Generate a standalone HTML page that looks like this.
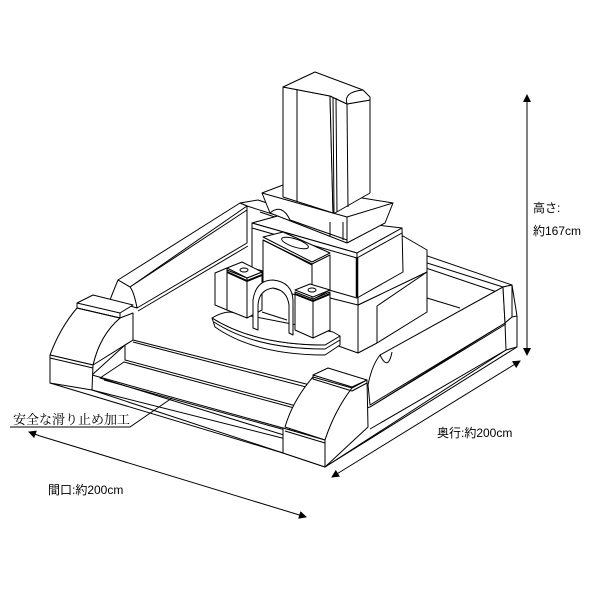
<!DOCTYPE html>
<html><head><meta charset="utf-8"><style>
html,body{margin:0;padding:0;background:#fff;}
svg{display:block}
text{font-family:"Liberation Sans","Noto Sans CJK JP",sans-serif;fill:#000}
</style></head><body>
<svg width="600" height="600" viewBox="0 0 600 600" xmlns="http://www.w3.org/2000/svg">
<defs>
<marker id="ah" markerWidth="8" markerHeight="8" refX="7" refY="4" orient="auto" markerUnits="userSpaceOnUse">
<path d="M0,0 L8,4 L0,8 z" fill="#000"/></marker>
</defs>
<g fill="#fff" stroke="#000" stroke-width="1" stroke-linejoin="round">
<!-- back rail -->
<polygon points="240,203 247,206 503,287 512,285 410,250 258,200"/>
<line x1="260" y1="212" x2="497" y2="292" fill="none"/>
<line x1="247" y1="206" x2="247" y2="243" fill="none"/>
<line x1="427" y1="298" x2="460" y2="308" fill="none"/>
<!-- left rail -->
<path d="M118,280 L240,203 L247,206 L130,287 Z"/>
<path d="M130,287 L247,210 L247,243 L137,308 Q134,292 130,287 Z"/>
<path d="M118,280 Q113,292 110,300 L137,308 Q134,292 130,287 Z"/>
<line x1="138" y1="311" x2="248" y2="246" fill="none"/>
<!-- right rail -->
<polygon points="512,285 517,316 517,347 325,467 283,453 283,430 370,407 505,323 505,290"/>
<path d="M380,355 L503,287 L505,323 L370,405 L368,385 Q372,365 380,355 Z"/>
<polygon points="503,287 512,285 512,317 505,323"/>
<polygon points="505,323 512,317 517,316 517,347 506,350"/>
<line x1="370" y1="407" x2="506" y2="324" fill="none"/>
<line x1="370" y1="429" x2="506" y2="350" fill="none"/>
<line x1="506" y1="350" x2="325" y2="467" fill="none"/>
<path d="M380,355 Q388,372 392,352" fill="none"/>

<!-- lower monument block -->
<polygon points="330,298 358,305 427,272 427,312 377,343 358,353 330,343"/>
<polygon points="358,260 403,236 427,250 427,272 358,305"/>
<line x1="358" y1="305" x2="358" y2="353" fill="none"/>
<line x1="377" y1="306" x2="377" y2="343" fill="none"/>
<line x1="377" y1="306" x2="427" y2="272" fill="none"/>
<!-- middle block -->
<polygon points="252,223 285,214 402,228 357,253"/>
<polygon points="252,223 357,253 357,298 252,268"/>
<polygon points="357,253 402,228 403,272 357,298"/>
<polyline points="252,228 357,258 402,233" fill="none"/>
<line x1="357" y1="258" x2="357" y2="297" stroke-width="2.5"/>
<!-- flared upper base -->
<polygon points="262,193 283,185 393,203 385,223 347,243 270,213"/>
<polyline points="262,193 347,217 393,203" fill="none"/>
<path d="M270,213 Q282,203 290,220 L347,240" fill="none"/>
<line x1="347" y1="217" x2="347" y2="243" fill="none"/>
<line x1="330" y1="222" x2="330" y2="237" fill="none"/>
<line x1="343" y1="222" x2="343" y2="240" fill="none"/>
<!-- tower -->
<polygon points="283,87 330,96 333,213 283,197"/>
<polygon points="330,96 347,104 370,100 370,193 335,213 333,213"/>
<polygon points="283,87 315,72 363,90 370,97 370,100 347,104 330,96"/>
<path d="M347,104 Q343,92 363,90" fill="none"/>
<line x1="297" y1="89" x2="297" y2="201" fill="none"/>
<line x1="333" y1="97" x2="334" y2="213" fill="none"/>
<line x1="336" y1="98" x2="337" y2="212" fill="none"/>
<line x1="347" y1="104" x2="348" y2="207" fill="none"/>
<!-- offering box -->
<polygon points="263,240 312,264 312,300 263,285"/>
<polygon points="312,264 330,255 330,290 312,300"/>
<polygon points="263,237 283,232 330,253 312,262"/>
<line x1="263" y1="240" x2="312" y2="265" fill="none"/>
<ellipse cx="295" cy="243" rx="14" ry="4" transform="rotate(18 295 243)"/>
<!-- curved plinth -->
<path d="M212,318 Q255,345 325,345 L340,336 L340,345 L325,355 Q255,355 215,327 Z"/>
<path d="M212,318 Q222,312 230,312 L333,332 L340,336 L325,345 Q255,345 212,318 Z"/>
<path d="M214,322 Q255,349 325,349 L340,340" fill="none"/>
<!-- left vase -->
<polygon points="215,273 227,268 227,310 215,305"/>
<polygon points="227,270 247,278 247,318 227,310"/>
<polygon points="247,278 262,272 262,310 247,318"/>
<polygon points="227,268 242,262 262,272 247,278"/>
<polyline points="227,272 247,281 262,275" fill="none" stroke-width="2"/>
<ellipse cx="244" cy="270" rx="4" ry="2" fill="none"/>
<!-- arch -->
<path d="M253,328 L253,300 Q256,280 273,280 Q292,282 293,300 L293,335 L289,333 L289,305 Q287,290 273,288 Q259,290 258,305 L258,330 Z"/>
<polyline points="262,312 287,320" fill="none"/>
<!-- right vase -->
<polygon points="295,292 313,299 313,338 295,330"/>
<polygon points="313,299 330,292 330,330 313,338"/>
<polygon points="295,290 310,284 330,290 313,297"/>
<polyline points="295,294 313,301 330,294" fill="none" stroke-width="2"/>
<ellipse cx="312" cy="290" rx="4" ry="2" fill="none"/>

<!-- front step -->
<polygon points="92,375 125,345 133,340 310,385 312,378 300,420 290,440 92,390"/>
<polyline points="125,345 125,360 300,407" fill="none"/>
<line x1="133" y1="342" x2="310" y2="388" fill="none"/>
<polygon points="100,378 124,362 298,409 287,436"/>
<line x1="104" y1="380" x2="289" y2="431" fill="none"/>
<line x1="92" y1="375" x2="283" y2="428" fill="none"/>
<line x1="92" y1="390" x2="283" y2="453" fill="none"/>
<line x1="50" y1="383" x2="283" y2="453" fill="none"/>
<!-- front-left block -->
<path d="M77,308 L120,318 L133,313 L133,340 L93,365 Q100,335 120,318 Z"/>
<path d="M77,308 Q60,328 50,355 L93,365 Q100,335 120,318 Z"/>
<polygon points="50,355 93,365 92,390 50,383"/>
<polygon points="77,303 93,295 133,305 120,313"/>
<polyline points="77,303 77,308 120,318 120,313" fill="none"/>
<line x1="50" y1="358" x2="93" y2="368" fill="none"/>
<!-- front-right block -->
<path d="M313,377 Q293,400 285,427 L325,440 Q335,410 352,388 Z"/>
<path d="M352,388 L367,380 L368,427 L325,467 L325,440 Q335,410 352,388 Z"/>
<polygon points="283,428 325,440 325,467 283,453"/>
<polygon points="313,375 328,368 367,380 352,387"/>
<polyline points="313,375 313,379 352,391 367,383" fill="none"/>
<line x1="285" y1="431" x2="325" y2="443" fill="none"/>
</g>
<g stroke="#000" stroke-width="1" fill="none">
<line x1="527" y1="100" x2="527" y2="95" marker-end="url(#ah)"/>
<line x1="527" y1="100" x2="527" y2="355" marker-end="url(#ah)"/>
<line x1="340" y1="472" x2="332" y2="477" marker-end="url(#ah)"/>
<line x1="340" y1="472" x2="520" y2="361" marker-end="url(#ah)"/>
<line x1="40" y1="436" x2="29" y2="432" marker-end="url(#ah)"/>
<line x1="40" y1="436" x2="306" y2="517" marker-end="url(#ah)"/>
<polyline points="10,427 130,427 172,398"/>
</g>
<text x="13" y="424" font-size="13" style="font-family:'Liberation Serif','Noto Serif CJK SC',serif">安全な滑り止め加工</text>
<text x="533" y="212" font-size="12">高さ:</text>
<text x="533" y="235" font-size="12">約167cm</text>
<text x="437" y="437" font-size="12">奥行:約200cm</text>
<text x="48" y="494" font-size="12">間口:約200cm</text>
</svg>
</body></html>
